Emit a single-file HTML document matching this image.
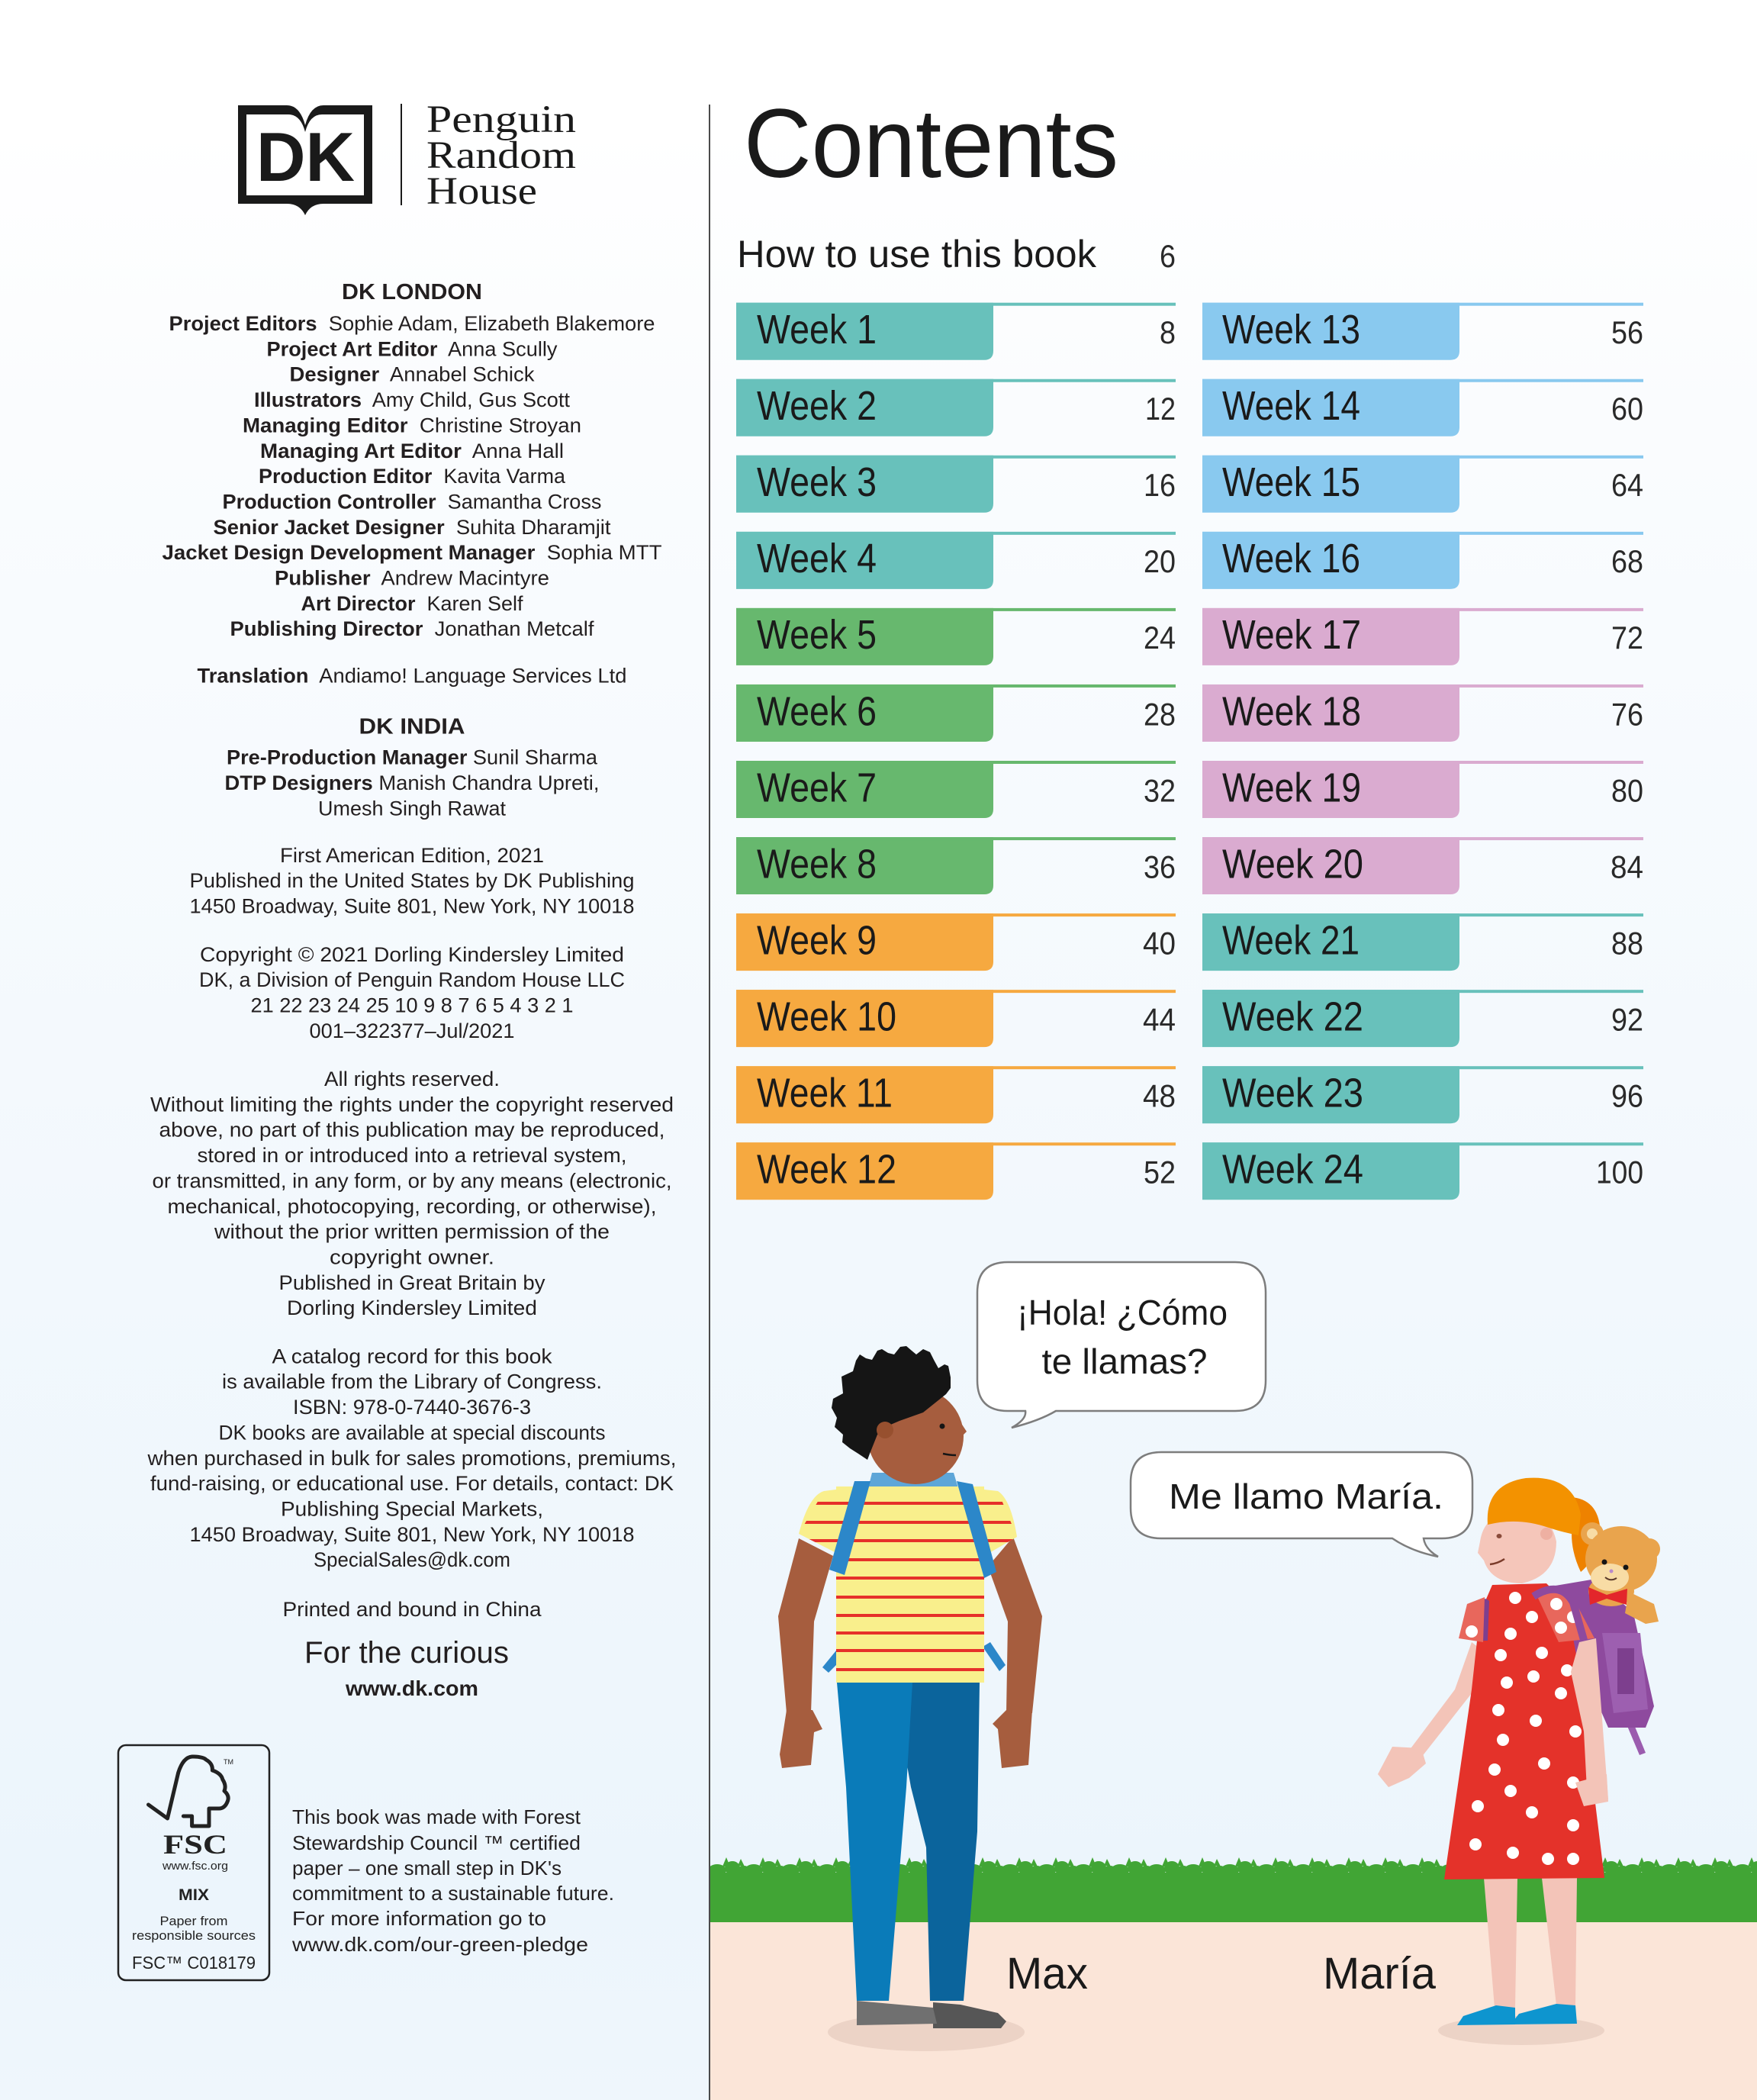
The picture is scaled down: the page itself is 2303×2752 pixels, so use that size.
<!DOCTYPE html>
<html><head><meta charset="utf-8"><style>html,body{margin:0;padding:0;background:#fff}svg{display:block}</style></head>
<body>
<svg xmlns="http://www.w3.org/2000/svg" width="2303" height="2752" viewBox="0 0 2303 2752" font-family="'Liberation Sans', sans-serif" fill="#1e1e1e">
<defs>
<linearGradient id="bg" x1="0" y1="0" x2="0" y2="1">
<stop offset="0" stop-color="#ffffff"/>
<stop offset="0.06" stop-color="#ffffff"/>
<stop offset="0.2" stop-color="#fafcfe"/>
<stop offset="0.9" stop-color="#ecf5fc"/>
<stop offset="1" stop-color="#eff6fc"/>
</linearGradient>
<pattern id="grass" x="931" y="2428" width="48" height="32" patternUnits="userSpaceOnUse">
<ellipse cx="9" cy="23" rx="12" ry="8" fill="#41a535"/>
<ellipse cx="29" cy="20" rx="10" ry="9" fill="#41a535"/>
<ellipse cx="44" cy="24" rx="9" ry="7" fill="#41a535"/>
<polygon points="16,18 21,6 26,18" fill="#41a535"/>
<polygon points="36,17 40,8 45,18" fill="#41a535"/>
<rect x="0" y="26" width="48" height="6" fill="#41a535"/>
</pattern>
<path id="bl" d="M965 0H1302V63Q1302 75 1290 75H965Z"/>
<rect id="ll" x="965" y="0" width="576" height="4"/>
<path id="br" d="M1576 0H1913V63Q1913 75 1901 75H1576Z"/>
<rect id="lr" x="1576" y="0" width="578" height="4"/>
<clipPath id="shirtclip">
<polygon points="1096,1948 1290,1948 1290,2205 1096,2205"/>
<polygon points="1111,1950 1080,1954 1047,2010 1096,2035"/>
<polygon points="1272,1950 1308,1954 1333,2014 1290,2039"/>
</clipPath>
</defs>

<rect x="0" y="0" width="2303" height="2752" fill="url(#bg)"/>

<!-- divider -->
<rect x="929" y="137" width="2" height="2615" fill="#4a4a4a"/>

<!-- DK logo -->
<path d="M312 138 L376 138 Q393 138 400 164 Q407 138 424 138 L488 138 L488 267 L424 267 Q407 267 400 282 Q393 267 376 267 L312 267 Z" fill="#1a1a1a"/>
<path d="M323 150 L378 150 Q394 150 400 173 Q406 150 422 150 L477 150 L477 256 L323 256 Z" fill="#ffffff"/>
<text x="336" y="237" font-size="91" font-weight="bold" textLength="129" lengthAdjust="spacingAndGlyphs" fill="#1a1a1a">DK</text>
<rect x="525" y="136" width="2" height="133" fill="#1a1a1a"/>
<g font-family="'Liberation Serif', serif" font-size="51" fill="#1a1a1a">
<text x="559" y="173" textLength="196" lengthAdjust="spacingAndGlyphs">Penguin</text>
<text x="559" y="220" textLength="196" lengthAdjust="spacingAndGlyphs">Random</text>
<text x="559" y="267" textLength="145" lengthAdjust="spacingAndGlyphs">House</text>
</g>

<!-- left credits -->
<g text-anchor="middle" font-size="27" fill="#231f20">
<text x="540" y="392" font-size="29" font-weight="bold" textLength="184" lengthAdjust="spacingAndGlyphs">DK LONDON</text>
<text x="540" y="433" textLength="637" lengthAdjust="spacingAndGlyphs"><tspan font-weight="bold">Project Editors</tspan>&#160; Sophie Adam, Elizabeth Blakemore</text>
<text x="540" y="466.4" textLength="381" lengthAdjust="spacingAndGlyphs"><tspan font-weight="bold">Project Art Editor</tspan>&#160; Anna Scully</text>
<text x="540" y="499.7" textLength="321" lengthAdjust="spacingAndGlyphs"><tspan font-weight="bold">Designer</tspan>&#160; Annabel Schick</text>
<text x="540" y="533.1" textLength="414" lengthAdjust="spacingAndGlyphs"><tspan font-weight="bold">Illustrators</tspan>&#160; Amy Child, Gus Scott</text>
<text x="540" y="566.4" textLength="444" lengthAdjust="spacingAndGlyphs"><tspan font-weight="bold">Managing Editor</tspan>&#160; Christine Stroyan</text>
<text x="540" y="599.8" textLength="398" lengthAdjust="spacingAndGlyphs"><tspan font-weight="bold">Managing Art Editor</tspan>&#160; Anna Hall</text>
<text x="540" y="633.1" textLength="402" lengthAdjust="spacingAndGlyphs"><tspan font-weight="bold">Production Editor</tspan>&#160; Kavita Varma</text>
<text x="540" y="666.5" textLength="497" lengthAdjust="spacingAndGlyphs"><tspan font-weight="bold">Production Controller</tspan>&#160; Samantha Cross</text>
<text x="540" y="699.8" textLength="521" lengthAdjust="spacingAndGlyphs"><tspan font-weight="bold">Senior Jacket Designer</tspan>&#160; Suhita Dharamjit</text>
<text x="540" y="733.2" textLength="655" lengthAdjust="spacingAndGlyphs"><tspan font-weight="bold">Jacket Design Development Manager</tspan>&#160; Sophia MTT</text>
<text x="540" y="766.5" textLength="360" lengthAdjust="spacingAndGlyphs"><tspan font-weight="bold">Publisher</tspan>&#160; Andrew Macintyre</text>
<text x="540" y="799.9" textLength="291" lengthAdjust="spacingAndGlyphs"><tspan font-weight="bold">Art Director</tspan>&#160; Karen Self</text>
<text x="540" y="833.2" textLength="477" lengthAdjust="spacingAndGlyphs"><tspan font-weight="bold">Publishing Director</tspan>&#160; Jonathan Metcalf</text>
<text x="540" y="894.7" textLength="563" lengthAdjust="spacingAndGlyphs"><tspan font-weight="bold">Translation</tspan>&#160; Andiamo! Language Services Ltd</text>
<text x="540" y="961.4" font-size="29" font-weight="bold" textLength="139" lengthAdjust="spacingAndGlyphs">DK INDIA</text>
<text x="540" y="1001.7" textLength="486" lengthAdjust="spacingAndGlyphs"><tspan font-weight="bold">Pre-Production Manager</tspan> Sunil Sharma</text>
<text x="540" y="1035.1" textLength="491" lengthAdjust="spacingAndGlyphs"><tspan font-weight="bold">DTP Designers</tspan> Manish Chandra Upreti,</text>
<text x="540" y="1068.4" textLength="246" lengthAdjust="spacingAndGlyphs">Umesh Singh Rawat</text>
<text x="540" y="1129.9" textLength="346" lengthAdjust="spacingAndGlyphs">First American Edition, 2021</text>
<text x="540" y="1163.2" textLength="583" lengthAdjust="spacingAndGlyphs">Published in the United States by DK Publishing</text>
<text x="540" y="1196.6" textLength="583" lengthAdjust="spacingAndGlyphs">1450 Broadway, Suite 801, New York, NY 10018</text>
<text x="540" y="1259.8" textLength="556" lengthAdjust="spacingAndGlyphs">Copyright © 2021 Dorling Kindersley Limited</text>
<text x="540" y="1293.1" textLength="558" lengthAdjust="spacingAndGlyphs">DK, a Division of Penguin Random House LLC</text>
<text x="540" y="1326.5" textLength="423" lengthAdjust="spacingAndGlyphs">21 22 23 24 25 10 9 8 7 6 5 4 3 2 1</text>
<text x="540" y="1359.8" textLength="269" lengthAdjust="spacingAndGlyphs">001–322377–Jul/2021</text>
<text x="540" y="1423" textLength="230" lengthAdjust="spacingAndGlyphs">All rights reserved.</text>
<text x="540" y="1456.4" textLength="686" lengthAdjust="spacingAndGlyphs">Without limiting the rights under the copyright reserved</text>
<text x="540" y="1489.7" textLength="663" lengthAdjust="spacingAndGlyphs">above, no part of this publication may be reproduced,</text>
<text x="540" y="1523.1" textLength="563" lengthAdjust="spacingAndGlyphs">stored in or introduced into a retrieval system,</text>
<text x="540" y="1556.4" textLength="681" lengthAdjust="spacingAndGlyphs">or transmitted, in any form, or by any means (electronic,</text>
<text x="540" y="1589.8" textLength="641" lengthAdjust="spacingAndGlyphs">mechanical, photocopying, recording, or otherwise),</text>
<text x="540" y="1623.1" textLength="518" lengthAdjust="spacingAndGlyphs">without the prior written permission of the</text>
<text x="540" y="1656.5" textLength="216" lengthAdjust="spacingAndGlyphs">copyright owner.</text>
<text x="540" y="1689.8" textLength="349" lengthAdjust="spacingAndGlyphs">Published in Great Britain by</text>
<text x="540" y="1723.2" textLength="328" lengthAdjust="spacingAndGlyphs">Dorling Kindersley Limited</text>
<text x="540" y="1786.4" textLength="367" lengthAdjust="spacingAndGlyphs">A catalog record for this book</text>
<text x="540" y="1819.7" textLength="498" lengthAdjust="spacingAndGlyphs">is available from the Library of Congress.</text>
<text x="540" y="1853.1" textLength="312" lengthAdjust="spacingAndGlyphs">ISBN: 978-0-7440-3676-3</text>
<text x="540" y="1886.4" textLength="507" lengthAdjust="spacingAndGlyphs">DK books are available at special discounts</text>
<text x="540" y="1919.8" textLength="693" lengthAdjust="spacingAndGlyphs">when purchased in bulk for sales promotions, premiums,</text>
<text x="540" y="1953.1" textLength="686" lengthAdjust="spacingAndGlyphs">fund-raising, or educational use. For details, contact: DK</text>
<text x="540" y="1986.5" textLength="344" lengthAdjust="spacingAndGlyphs">Publishing Special Markets,</text>
<text x="540" y="2019.8" textLength="583" lengthAdjust="spacingAndGlyphs">1450 Broadway, Suite 801, New York, NY 10018</text>
<text x="540" y="2053.2" textLength="258" lengthAdjust="spacingAndGlyphs">SpecialSales@dk.com</text>
<text x="540" y="2118.1" textLength="339" lengthAdjust="spacingAndGlyphs">Printed and bound in China</text>
<text x="533" y="2179" font-size="40" textLength="268" lengthAdjust="spacingAndGlyphs">For the curious</text>
<text x="540" y="2222" font-size="28" font-weight="bold" textLength="174" lengthAdjust="spacingAndGlyphs">www.dk.com</text>
</g>

<!-- FSC -->
<rect x="155" y="2287" width="198" height="308" rx="10" fill="none" stroke="#222" stroke-width="2.5"/>
<path d="M194.5 2365 L219.5 2383 L233.7 2323 Q240 2303 251.6 2302 Q266 2302 270 2306 Q279 2311 278.4 2320 Q290 2324 291.8 2332 Q297 2340 294 2347 Q301 2353 298.5 2360 Q295 2370 287 2370 L274 2370 L274 2393 L251.6 2393 L251.6 2380 L240.4 2380" fill="none" stroke="#222" stroke-width="5" stroke-linejoin="round" stroke-linecap="round"/>
<text x="293" y="2312" font-size="9" fill="#222">TM</text>
<g text-anchor="middle" fill="#222">
<text x="256" y="2429" font-family="'Liberation Serif', serif" font-weight="bold" font-size="36" textLength="84" lengthAdjust="spacingAndGlyphs">FSC</text>
<text x="256" y="2450" font-size="15" textLength="86" lengthAdjust="spacingAndGlyphs">www.fsc.org</text>
<text x="254" y="2490" font-size="21" font-weight="bold" textLength="40" lengthAdjust="spacingAndGlyphs">MIX</text>
<text x="254" y="2523" font-size="17" textLength="89" lengthAdjust="spacingAndGlyphs">Paper from</text>
<text x="254" y="2542" font-size="17" textLength="162" lengthAdjust="spacingAndGlyphs">responsible sources</text>
<text x="254" y="2580" font-size="23" textLength="162" lengthAdjust="spacingAndGlyphs">FSC™ C018179</text>
</g>
<g font-size="26" fill="#231f20">
<text x="383" y="2390" textLength="378" lengthAdjust="spacingAndGlyphs">This book was made with Forest</text>
<text x="383" y="2424" textLength="378" lengthAdjust="spacingAndGlyphs">Stewardship Council ™ certified</text>
<text x="383" y="2457" textLength="353" lengthAdjust="spacingAndGlyphs">paper – one small step in DK's</text>
<text x="383" y="2490" textLength="422" lengthAdjust="spacingAndGlyphs">commitment to a sustainable future.</text>
<text x="383" y="2523" textLength="333" lengthAdjust="spacingAndGlyphs">For more information go to</text>
<text x="383" y="2557" textLength="388" lengthAdjust="spacingAndGlyphs">www.dk.com/our-green-pledge</text>
</g>

<!-- Contents -->
<text x="975" y="232" font-size="128" textLength="491" lengthAdjust="spacingAndGlyphs" fill="#1a1a1a">Contents</text>
<text x="966" y="350" font-size="50" textLength="471" lengthAdjust="spacingAndGlyphs" fill="#1a1a1a">How to use this book</text>
<text x="1541" y="350" font-size="42" text-anchor="end" textLength="21" lengthAdjust="spacingAndGlyphs" fill="#2a2a2a">6</text>

<!-- week bars -->
<g transform="translate(0,396.7)" fill="#68c1bb"><use href="#bl"/><use href="#ll"/></g>
<g transform="translate(0,496.75)" fill="#68c1bb"><use href="#bl"/><use href="#ll"/></g>
<g transform="translate(0,596.8)" fill="#68c1bb"><use href="#bl"/><use href="#ll"/></g>
<g transform="translate(0,696.85)" fill="#68c1bb"><use href="#bl"/><use href="#ll"/></g>
<g transform="translate(0,796.9)" fill="#67b86e"><use href="#bl"/><use href="#ll"/></g>
<g transform="translate(0,896.95)" fill="#67b86e"><use href="#bl"/><use href="#ll"/></g>
<g transform="translate(0,997)" fill="#67b86e"><use href="#bl"/><use href="#ll"/></g>
<g transform="translate(0,1097.05)" fill="#67b86e"><use href="#bl"/><use href="#ll"/></g>
<g transform="translate(0,1197.1)" fill="#f6a940"><use href="#bl"/><use href="#ll"/></g>
<g transform="translate(0,1297.15)" fill="#f6a940"><use href="#bl"/><use href="#ll"/></g>
<g transform="translate(0,1397.2)" fill="#f6a940"><use href="#bl"/><use href="#ll"/></g>
<g transform="translate(0,1497.25)" fill="#f6a940"><use href="#bl"/><use href="#ll"/></g>

<g transform="translate(0,396.7)" fill="#89c9ef"><use href="#br"/><use href="#lr"/></g>
<g transform="translate(0,496.75)" fill="#89c9ef"><use href="#br"/><use href="#lr"/></g>
<g transform="translate(0,596.8)" fill="#89c9ef"><use href="#br"/><use href="#lr"/></g>
<g transform="translate(0,696.85)" fill="#89c9ef"><use href="#br"/><use href="#lr"/></g>
<g transform="translate(0,796.9)" fill="#daabd0"><use href="#br"/><use href="#lr"/></g>
<g transform="translate(0,896.95)" fill="#daabd0"><use href="#br"/><use href="#lr"/></g>
<g transform="translate(0,997)" fill="#daabd0"><use href="#br"/><use href="#lr"/></g>
<g transform="translate(0,1097.05)" fill="#daabd0"><use href="#br"/><use href="#lr"/></g>
<g transform="translate(0,1197.1)" fill="#68c1bb"><use href="#br"/><use href="#lr"/></g>
<g transform="translate(0,1297.15)" fill="#68c1bb"><use href="#br"/><use href="#lr"/></g>
<g transform="translate(0,1397.2)" fill="#68c1bb"><use href="#br"/><use href="#lr"/></g>
<g transform="translate(0,1497.25)" fill="#68c1bb"><use href="#br"/><use href="#lr"/></g>

<g font-size="54" fill="#1a1a1a">
<text x="992" y="450" textLength="157" lengthAdjust="spacingAndGlyphs">Week 1</text>
<text x="992" y="550.05" textLength="157" lengthAdjust="spacingAndGlyphs">Week 2</text>
<text x="992" y="650.1" textLength="157" lengthAdjust="spacingAndGlyphs">Week 3</text>
<text x="992" y="750.15" textLength="157" lengthAdjust="spacingAndGlyphs">Week 4</text>
<text x="992" y="850.2" textLength="157" lengthAdjust="spacingAndGlyphs">Week 5</text>
<text x="992" y="950.25" textLength="157" lengthAdjust="spacingAndGlyphs">Week 6</text>
<text x="992" y="1050.3" textLength="157" lengthAdjust="spacingAndGlyphs">Week 7</text>
<text x="992" y="1150.35" textLength="157" lengthAdjust="spacingAndGlyphs">Week 8</text>
<text x="992" y="1250.4" textLength="157" lengthAdjust="spacingAndGlyphs">Week 9</text>
<text x="992" y="1350.45" textLength="183" lengthAdjust="spacingAndGlyphs">Week 10</text>
<text x="992" y="1450.5" textLength="178" lengthAdjust="spacingAndGlyphs">Week 11</text>
<text x="992" y="1550.55" textLength="183" lengthAdjust="spacingAndGlyphs">Week 12</text>
<text x="1602" y="450" textLength="181" lengthAdjust="spacingAndGlyphs">Week 13</text>
<text x="1602" y="550.05" textLength="181" lengthAdjust="spacingAndGlyphs">Week 14</text>
<text x="1602" y="650.1" textLength="181" lengthAdjust="spacingAndGlyphs">Week 15</text>
<text x="1602" y="750.15" textLength="181" lengthAdjust="spacingAndGlyphs">Week 16</text>
<text x="1602" y="850.2" textLength="182" lengthAdjust="spacingAndGlyphs">Week 17</text>
<text x="1602" y="950.25" textLength="182" lengthAdjust="spacingAndGlyphs">Week 18</text>
<text x="1602" y="1050.3" textLength="182" lengthAdjust="spacingAndGlyphs">Week 19</text>
<text x="1602" y="1150.35" textLength="185" lengthAdjust="spacingAndGlyphs">Week 20</text>
<text x="1602" y="1250.4" textLength="180" lengthAdjust="spacingAndGlyphs">Week 21</text>
<text x="1602" y="1350.45" textLength="185" lengthAdjust="spacingAndGlyphs">Week 22</text>
<text x="1602" y="1450.5" textLength="185" lengthAdjust="spacingAndGlyphs">Week 23</text>
<text x="1602" y="1550.55" textLength="185" lengthAdjust="spacingAndGlyphs">Week 24</text>
</g>
<g font-size="42" fill="#2a2a2a" text-anchor="end">
<text x="1541" y="450" textLength="21" lengthAdjust="spacingAndGlyphs">8</text>
<text x="1541" y="550.05" textLength="40" lengthAdjust="spacingAndGlyphs">12</text>
<text x="1541" y="650.1" textLength="42" lengthAdjust="spacingAndGlyphs">16</text>
<text x="1541" y="750.15" textLength="42" lengthAdjust="spacingAndGlyphs">20</text>
<text x="1541" y="850.2" textLength="42" lengthAdjust="spacingAndGlyphs">24</text>
<text x="1541" y="950.25" textLength="42" lengthAdjust="spacingAndGlyphs">28</text>
<text x="1541" y="1050.3" textLength="42" lengthAdjust="spacingAndGlyphs">32</text>
<text x="1541" y="1150.35" textLength="42" lengthAdjust="spacingAndGlyphs">36</text>
<text x="1541" y="1250.4" textLength="43" lengthAdjust="spacingAndGlyphs">40</text>
<text x="1541" y="1350.45" textLength="43" lengthAdjust="spacingAndGlyphs">44</text>
<text x="1541" y="1450.5" textLength="43" lengthAdjust="spacingAndGlyphs">48</text>
<text x="1541" y="1550.55" textLength="42" lengthAdjust="spacingAndGlyphs">52</text>
<text x="2154" y="450" textLength="42" lengthAdjust="spacingAndGlyphs">56</text>
<text x="2154" y="550.05" textLength="42" lengthAdjust="spacingAndGlyphs">60</text>
<text x="2154" y="650.1" textLength="42" lengthAdjust="spacingAndGlyphs">64</text>
<text x="2154" y="750.15" textLength="42" lengthAdjust="spacingAndGlyphs">68</text>
<text x="2154" y="850.2" textLength="42" lengthAdjust="spacingAndGlyphs">72</text>
<text x="2154" y="950.25" textLength="42" lengthAdjust="spacingAndGlyphs">76</text>
<text x="2154" y="1050.3" textLength="42" lengthAdjust="spacingAndGlyphs">80</text>
<text x="2154" y="1150.35" textLength="43" lengthAdjust="spacingAndGlyphs">84</text>
<text x="2154" y="1250.4" textLength="42" lengthAdjust="spacingAndGlyphs">88</text>
<text x="2154" y="1350.45" textLength="42" lengthAdjust="spacingAndGlyphs">92</text>
<text x="2154" y="1450.5" textLength="42" lengthAdjust="spacingAndGlyphs">96</text>
<text x="2154" y="1550.55" textLength="62" lengthAdjust="spacingAndGlyphs">100</text>
</g>

<!-- ground & grass -->
<rect x="931" y="2428" width="1372" height="32" fill="url(#grass)"/>
<rect x="931" y="2456" width="1372" height="64" fill="#41a535"/>
<rect x="931" y="2519" width="1372" height="233" fill="#fbe5d8"/>

<!-- speech bubbles -->
<path d="M1321 1654 H1619 Q1659 1654 1659 1694 V1809 Q1659 1849 1619 1849 H1384 Q1362 1862 1326 1871 Q1346 1860 1344 1849 H1321 Q1281 1849 1281 1809 V1694 Q1281 1654 1321 1654 Z" fill="#ffffff" stroke="#7d7d7d" stroke-width="2.5"/>
<g font-size="46" fill="#1a1a1a" text-anchor="middle">
<text x="1471" y="1736" textLength="276" lengthAdjust="spacingAndGlyphs">¡Hola! ¿Cómo</text>
<text x="1474" y="1800" textLength="217" lengthAdjust="spacingAndGlyphs">te llamas?</text>
</g>
<path d="M1522 1903 H1890 Q1930 1903 1930 1943 V1976 Q1930 2016 1890 2016 H1866 Q1868 2030 1885 2040 Q1850 2033 1825 2016 H1522 Q1482 2016 1482 1976 V1943 Q1482 1903 1522 1903 Z" fill="#ffffff" stroke="#7d7d7d" stroke-width="2.5"/>
<text x="1712" y="1977" font-size="46" text-anchor="middle" textLength="360" lengthAdjust="spacingAndGlyphs" fill="#1a1a1a">Me llamo María.</text>

<!-- MAX -->
<ellipse cx="1214" cy="2663" rx="129" ry="25" fill="#ecd3c6"/>
<polygon points="1223,2624 1259,2627 1308,2638 1319,2649 1312,2658 1223,2658" fill="#565656"/>
<polygon points="1123,2622 1223,2631 1228,2652 1123,2654" fill="#707070"/>
<polygon points="1170,2205 1284,2205 1281,2400 1263,2622 1219,2622 1214,2421 1194,2342" fill="#0b649c"/>
<polygon points="1097,2205 1196,2205 1188,2342 1165,2622 1123,2622 1109,2342" fill="#0a7bb9"/>
<polygon points="1047,2016 1092,2039 1067,2125 1063,2245 1031,2245 1020,2118" fill="#a65d3e"/>
<polygon points="1031,2241 1065,2241 1078,2266 1067,2270 1063,2313 1025,2317 1022,2299" fill="#a65d3e"/>
<polygon points="1328,2014 1366,2118 1353,2245 1319,2245 1321,2125 1295,2053" fill="#a65d3e"/>
<polygon points="1319,2241 1353,2241 1348,2313 1313,2317 1308,2266 1301,2259" fill="#a65d3e"/>
<polygon points="1078,2185 1096,2163 1100,2178 1086,2192" fill="#2c87c9"/>
<polygon points="1288,2158 1298,2152 1318,2182 1310,2190" fill="#2c87c9"/>
<polygon points="1143,1930 1250,1930 1256,1950 1138,1950" fill="#5ea6d8"/>
<g>
<polygon points="1096,1948 1290,1948 1290,2205 1096,2205" fill="#f9ef8c"/>
<path d="M1111 1950 L1080 1954 Q1060 1960 1047 2010 L1096 2035 Z" fill="#f9ef8c"/>
<path d="M1272 1950 L1308 1954 Q1325 1965 1333 2014 L1290 2039 Z" fill="#f9ef8c"/>
<g clip-path="url(#shirtclip)" fill="#e6302a">
<rect x="1040" y="1968" width="300" height="4"/>
<rect x="1040" y="1993" width="300" height="4"/>
<rect x="1040" y="2017" width="300" height="4"/>
<rect x="1040" y="2042" width="300" height="4"/>
<rect x="1040" y="2066" width="300" height="4"/>
<rect x="1040" y="2091" width="300" height="4"/>
<rect x="1040" y="2115" width="300" height="4"/>
<rect x="1040" y="2138" width="300" height="4"/>
<rect x="1040" y="2161" width="300" height="4"/>
<rect x="1040" y="2186" width="300" height="4"/>
</g>
</g>
<polygon points="1120,1941 1141,1941 1107,2064 1087,2057" fill="#2c87c9"/>
<polygon points="1254,1941 1275,1945 1306,2060 1290,2068" fill="#2c87c9"/>
<circle cx="1200" cy="1882" r="63" fill="#a65d3e"/>
<polygon points="1250,1850 1267,1876 1259,1884 1250,1890" fill="#a65d3e"/>
<polygon points="1092,1833 1105,1826 1103,1804 1118,1797 1122,1783 1127,1775 1135,1780 1143,1782 1150,1770 1156,1768 1164,1773 1172,1775 1180,1765 1188,1764 1195,1770 1201,1775 1210,1768 1219,1772 1224,1782 1230,1793 1238,1788 1243,1790 1246,1805 1246,1819 1240,1827 1210,1851 1179,1862 1165,1868 1150,1880 1140,1905 1137,1913 1125,1905 1114,1898 1104,1890 1105,1880 1094,1870 1097,1858 1090,1845" fill="#151515"/>
<circle cx="1160" cy="1874" r="11" fill="#97502f"/>
<circle cx="1235" cy="1869" r="3.5" fill="#151515"/>
<path d="M1236 1905 Q1245 1907 1253 1907" stroke="#151515" stroke-width="2.5" fill="none"/>
<text x="1319" y="2606" font-size="58" textLength="107" lengthAdjust="spacingAndGlyphs" fill="#1a1a1a">Max</text>

<!-- MARIA -->
<ellipse cx="1994" cy="2661" rx="109" ry="19" fill="#ecd3c6"/>
<polygon points="1945,2461 1989,2461 1986,2631 1959,2631" fill="#f3c4b8"/>
<polygon points="2021,2461 2067,2461 2065,2628 2040,2628" fill="#f3c4b8"/>
<polygon points="1961,2628 1986,2631 1986,2653 1910,2654 1918,2642" fill="#0e95cf"/>
<polygon points="2040,2626 2065,2628 2067,2652 1980,2653 1991,2639" fill="#0e95cf"/>
<path d="M2045 1962 Q2092 1958 2097 2000 Q2096 2040 2072 2060 Q2060 2035 2060 2010 Z" fill="#ee8200"/>
<polygon points="2141,2258 2157,2297 2149,2300 2133,2262" fill="#9b5cae"/>
<polygon points="2027,2080 2092,2069 2141,2114 2168,2236 2157,2264 2108,2264 2076,2191 2038,2130" fill="#8e4a9e"/>
<polygon points="2100,2140 2150,2140 2160,2240 2115,2245" fill="#9d5fb0"/>
<rect x="2120" y="2160" width="22" height="60" fill="#7d3f8e"/>
<ellipse cx="2112" cy="2085" rx="30" ry="20" fill="#e9a44d"/>
<polygon points="2135,2086 2168,2102 2174,2125 2157,2128 2130,2114" fill="#e9a44d"/>
<circle cx="2087" cy="2010" r="15" fill="#e9a44d"/>
<circle cx="2087" cy="2010" r="7" fill="#f8dca5"/>
<circle cx="2162" cy="2030" r="14" fill="#e9a44d"/>
<circle cx="2162" cy="2030" r="6" fill="#f8dca5"/>
<ellipse cx="2125" cy="2043" rx="47" ry="43" fill="#e9a44d"/>
<ellipse cx="2110" cy="2067" rx="25" ry="18" fill="#f8dca5"/>
<circle cx="2103" cy="2047" r="3.5" fill="#151515"/>
<circle cx="2131" cy="2054" r="3.5" fill="#151515"/>
<circle cx="2112" cy="2059" r="2.5" fill="#b98ac9"/>
<path d="M2104 2067 Q2111 2073 2119 2068" stroke="#5a3a2a" stroke-width="2" fill="none"/>
<polygon points="2082,2080 2106,2090 2133,2082 2132,2103 2106,2095 2084,2103" fill="#e3262b"/>
<polygon points="1929,2152 1951,2169 1929,2219 1863,2303 1847,2294 1907,2214" fill="#f3c4b8"/>
<polygon points="1863,2291 1825,2289 1806,2325 1820,2342 1847,2330 1869,2311" fill="#f3c4b8"/>
<polygon points="1956,2077 2027,2075 2054,2102 2070,2191 2103,2461 1893,2463 1929,2214 1940,2114" fill="#e4322a"/>
<path d="M1936 2098 Q1946 2092 1952 2098 L1950 2150 L1938 2150 Z" fill="#7d3f8e"/>
<polygon points="1923,2102 1946,2093 1944,2152 1912,2147" fill="#e8675c"/>
<path d="M2014 2090 Q2030 2078 2060 2090 L2090 2147 L2043 2152 Z" fill="#e8675c"/>
<g fill="#ffffff">
<circle cx="1986" cy="2094" r="8"/><circle cx="2040" cy="2102" r="8"/><circle cx="2062" cy="2119" r="8"/>
<circle cx="2008" cy="2119" r="8"/><circle cx="1980" cy="2141" r="8"/><circle cx="1929" cy="2138" r="8"/>
<circle cx="2046" cy="2133" r="8"/><circle cx="1967" cy="2169" r="8"/><circle cx="2021" cy="2166" r="8"/>
<circle cx="2054" cy="2189" r="8"/><circle cx="1975" cy="2205" r="8"/><circle cx="2010" cy="2197" r="8"/>
<circle cx="2046" cy="2219" r="8"/><circle cx="1964" cy="2241" r="8"/><circle cx="2013" cy="2255" r="8"/>
<circle cx="2065" cy="2269" r="8"/><circle cx="1970" cy="2280" r="8"/><circle cx="2024" cy="2311" r="8"/>
<circle cx="1959" cy="2319" r="8"/><circle cx="2062" cy="2336" r="8"/><circle cx="1980" cy="2347" r="8"/>
<circle cx="1937" cy="2367" r="8"/><circle cx="2008" cy="2375" r="8"/><circle cx="2062" cy="2392" r="8"/>
<circle cx="1934" cy="2417" r="8"/><circle cx="1983" cy="2428" r="8"/><circle cx="2029" cy="2436" r="8"/>
<circle cx="2062" cy="2436" r="8"/>
</g>
<path d="M2010 2092 Q2045 2070 2062 2100 L2082 2170" stroke="#8e4a9e" stroke-width="10" fill="none"/>
<polygon points="2070,2152 2092,2147 2108,2358 2081,2364 2076,2269 2059,2191" fill="#f3c4b8"/>
<polygon points="2065,2336 2106,2325 2108,2361 2076,2367" fill="#f3c4b8"/>
<path d="M1940 2020 Q1945 1985 1985 1978 Q2030 1975 2040 2020 Q2040 2065 1995 2075 Q1955 2075 1945 2045 L1937 2035 Z" fill="#f5c6ba"/>
<path d="M1950 1998 Q1946 1945 2000 1937 Q2062 1932 2072 1985 L2069 2012 Q2048 2008 2030 2002 Q1990 1988 1950 1998 Z" fill="#f39200"/>
<circle cx="2027" cy="2010" r="8" fill="#eeb0a2"/>
<ellipse cx="1965" cy="2013" rx="3.5" ry="3" fill="#8a4b3a"/>
<path d="M1953 2050 Q1963 2049 1972 2043" stroke="#7a3b2a" stroke-width="2.5" fill="none"/>
<text x="1734" y="2606" font-size="58" textLength="148" lengthAdjust="spacingAndGlyphs" fill="#1a1a1a">María</text>
</svg>
</body></html>
